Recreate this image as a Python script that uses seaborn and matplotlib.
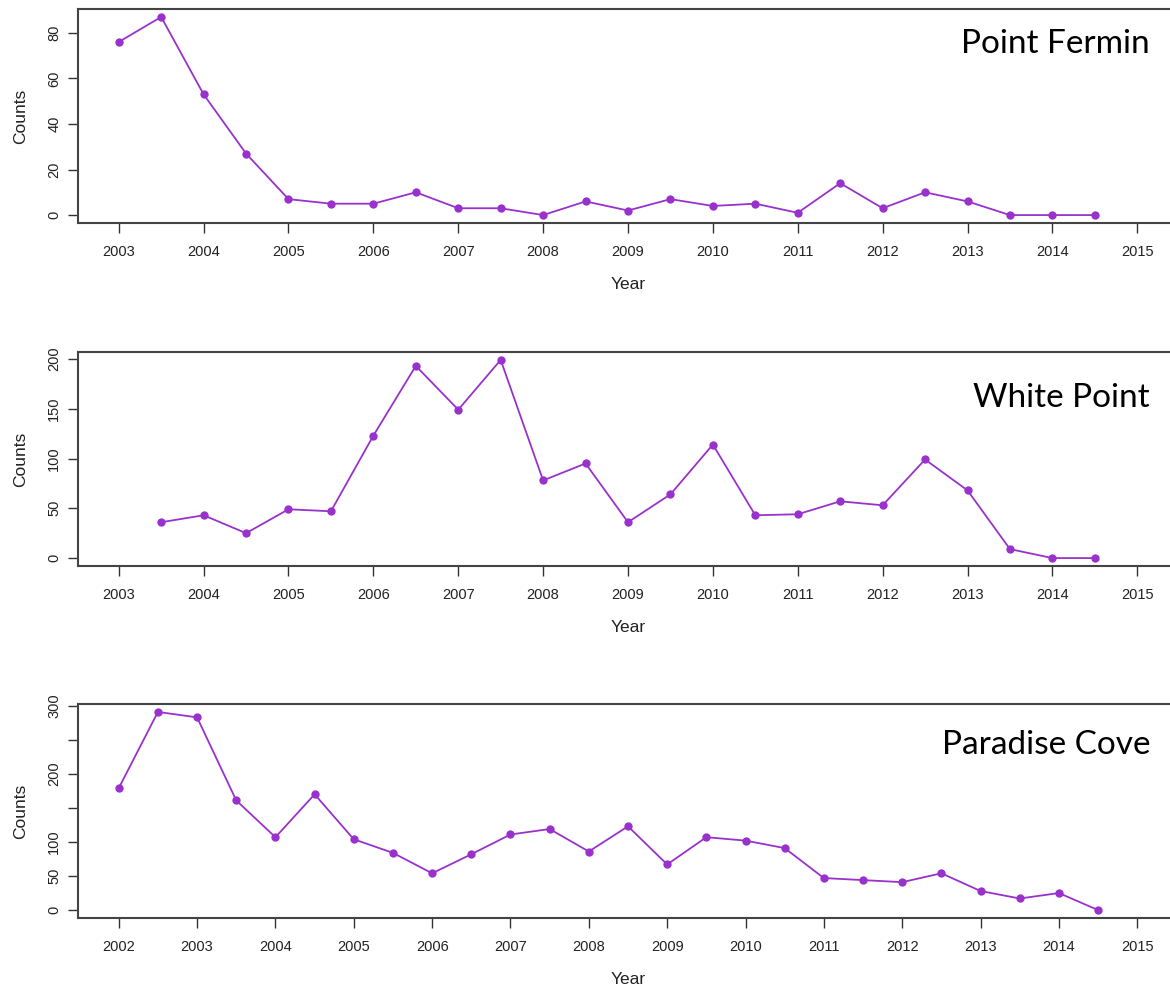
import numpy as np
import pandas as pd
import matplotlib
matplotlib.use("Agg")
import matplotlib.pyplot as plt
import seaborn as sns

# half-yearly counts per site
fermin_years = [2003, 2003.5, 2004, 2004.5, 2005, 2005.5, 2006, 2006.5, 2007, 2007.5,
                2008, 2008.5, 2009, 2009.5, 2010, 2010.5, 2011, 2011.5, 2012, 2012.5,
                2013, 2013.5, 2014, 2014.5]
fermin_counts = [76, 87, 53, 27, 7, 5, 5, 10, 3, 3, 0, 6, 2, 7, 4, 5, 1, 14, 3, 10, 6, 0, 0, 0]

white_years = [2003.5, 2004, 2004.5, 2005, 2005.5, 2006, 2006.5, 2007, 2007.5,
               2008, 2008.5, 2009, 2009.5, 2010, 2010.5, 2011, 2011.5, 2012, 2012.5,
               2013, 2013.5, 2014, 2014.5]
white_counts = [36, 43, 25, 49, 47, 123, 193, 149, 199, 78, 95, 36, 64, 114, 43, 44, 57, 53,
                99, 68, 9, 0, 0]

paradise_years = [2002, 2002.5, 2003, 2003.5, 2004, 2004.5, 2005, 2005.5, 2006, 2006.5, 2007,
                  2007.5, 2008, 2008.5, 2009, 2009.5, 2010, 2010.5, 2011, 2011.5, 2012, 2012.5,
                  2013, 2013.5, 2014, 2014.5]
paradise_counts = [179, 291, 283, 161, 107, 170, 104, 84, 54, 82, 111, 119, 86, 123, 67, 107,
                   102, 91, 47, 44, 41, 54, 28, 17, 25, 0]

site_names = ["Point Fermin", "White Point", "Paradise Cove"]

xticks_a = [2003, 2004, 2005, 2006, 2007, 2008, 2009, 2010, 2011, 2012, 2013, 2014, 2015]
xticks_b = [2002, 2003, 2004, 2005, 2006, 2007, 2008, 2009, 2010, 2011, 2012, 2013, 2014, 2015]
yticks_fermin = [0, 20, 40, 60, 80]
yticks_white = [0, 50, 100, 150, 200]
yticks_paradise = [0, 50, 100, 150, 200, 250, 300]
ylabels_paradise = ["0", "50", "100", "", "200", "", "300"]

sns.set_style("white")
plt.rcParams['font.family'] = ['Liberation Sans', 'DejaVu Sans']

W, H = 1170, 988
fig = plt.figure(figsize=(W / 100, H / 100), dpi=100)

purple = "#9932CC"
box_col = "#444444"

panels = [
    (fermin_years, fermin_counts, xticks_a, yticks_fermin, None, (2002.52, 2015.48), (-3.48, 90.48), 9, 53),
    (white_years, white_counts, xticks_a, yticks_white, None, (2002.52, 2015.48), (-7.96, 206.96), 352, 407),
    (paradise_years, paradise_counts, xticks_b, yticks_paradise, ylabels_paradise, (2001.48, 2015.52), (-11.64, 302.64), 704, 754),
]

for i, (yrs, cnts, xt, yt, ylab, xlim, ylim, top_px, title_base) in enumerate(panels):
    # box runs a little past the right edge, as in the original crop
    ax = fig.add_axes([78 / W, 1 - (top_px + 214) / H, 1100 / W, 214 / H])
    df = pd.DataFrame({"Year": yrs, "Counts": cnts})
    sns.lineplot(data=df, x="Year", y="Counts", ax=ax, color=purple, lw=1.3,
                 marker="o", markersize=6, markeredgewidth=0, markerfacecolor=purple)
    ax.set_xlim(*xlim)
    ax.set_ylim(*ylim)
    ax.set_xticks(xt)
    ax.set_xticklabels([str(v) for v in xt])
    ax.set_yticks(yt)
    ax.set_yticklabels(ylab if ylab else [str(v) for v in yt], rotation=90, va="center")
    ax.tick_params(bottom=True, left=True, direction="out", length=7, width=1,
                   color="#333333", labelcolor="#222222", labelsize=10.5)
    ax.tick_params(axis="x", pad=9)
    ax.tick_params(axis="y", pad=5)
    ax.set_xlabel("Year", fontsize=12.5, color="#222222", labelpad=13)
    ax.set_ylabel("Counts", fontsize=12.5, color="#222222", labelpad=14)
    for s in ax.spines.values():
        s.set_visible(True)
        s.set_color(box_col)
        s.set_linewidth(1.5)
    fig.text(1150 / W, 1 - title_base / H, site_names[i], ha="right", va="baseline",
             fontsize=24, family=["Lato", "DejaVu Sans"], color="black")

fig.savefig("out.png", dpi=100)
